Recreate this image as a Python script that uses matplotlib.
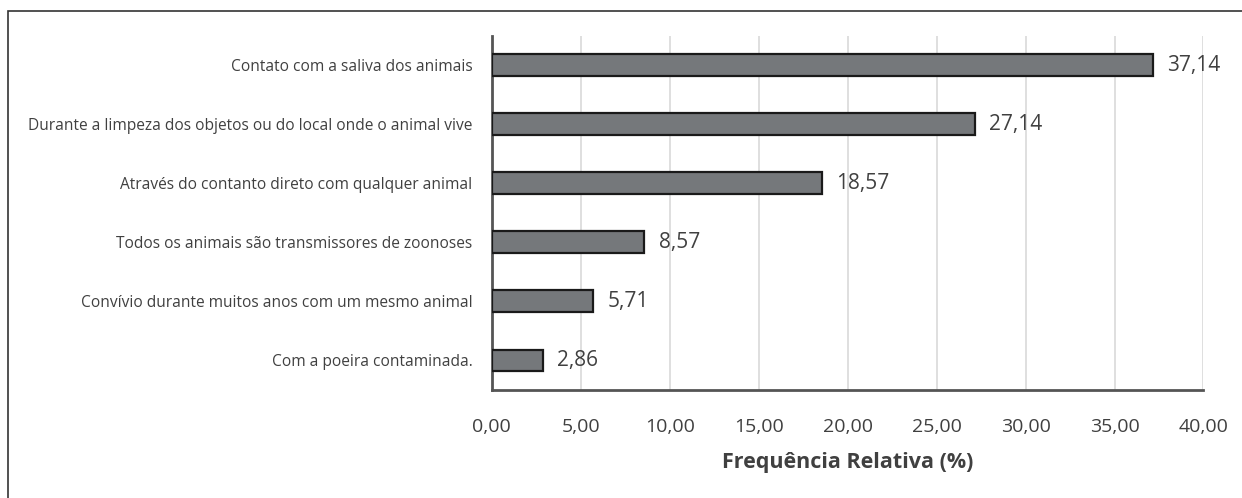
import matplotlib.pyplot as plt
from matplotlib.patches import Rectangle

categorias = [
    "Contato com a saliva dos animais",
    "Durante a limpeza dos objetos ou do local onde o animal vive",
    "Através do contanto direto com qualquer animal",
    "Todos os animais são transmissores de zoonoses",
    "Convívio durante muitos anos com um mesmo animal",
    "Com a poeira contaminada.",
]
frequencias = [37.14, 27.14, 18.57, 8.57, 5.71, 2.86]
ticks_x = [0, 5, 10, 15, 20, 25, 30, 35, 40]

texto = "#404040"
plt.rcParams['font.family'] = ['Open Sans', 'DejaVu Sans']

fig = plt.figure(figsize=(12.42, 4.98), dpi=100)
ax = fig.add_axes([0.396, 0.217, 0.573, 0.711])

# moldura do gráfico (só aparecem os lados esquerdo e superior)
fig.add_artist(Rectangle((8 / 1242, -0.1), 1.2, 1 - 11 / 498 + 0.1,
                         transform=fig.transFigure, fill=False,
                         edgecolor="#333333", linewidth=1.2))

pos = list(range(len(categorias)))
ax.barh(pos, frequencias, height=0.37, color="#75787b",
        edgecolor="#1a1a1a", linewidth=1.6, zorder=3)

for y, v in zip(pos, frequencias):
    ax.text(v + 0.8, y, f"{v:.2f}".replace(".", ","), va="center",
            ha="left", fontsize=15, color=texto)

ax.set_ylim(len(categorias) - 0.5, -0.5)
ax.set_xlim(0, 40)
ax.set_yticks(pos)
ax.set_yticklabels(categorias, fontsize=11.2, color=texto)
ax.set_xticks(ticks_x)
ax.set_xticklabels([f"{t:.2f}".replace(".", ",") for t in ticks_x],
                   fontsize=14, color=texto)
ax.tick_params(axis="both", length=0)
ax.tick_params(axis="x", pad=20)
ax.tick_params(axis="y", pad=14)

ax.grid(axis="x", color="#d9d9d9", linewidth=1.2, zorder=0)
for lado in ["top", "right"]:
    ax.spines[lado].set_visible(False)
ax.spines["left"].set_color("#555555")
ax.spines["left"].set_linewidth(2)
ax.spines["bottom"].set_color("#555555")
ax.spines["bottom"].set_linewidth(2)
ax.spines["bottom"].set_zorder(4)

ax.set_xlabel("Frequência Relativa (%)", fontsize=15.5, fontweight="bold",
              color=texto, labelpad=12)

fig.savefig("out.png", dpi=100, facecolor="white")
